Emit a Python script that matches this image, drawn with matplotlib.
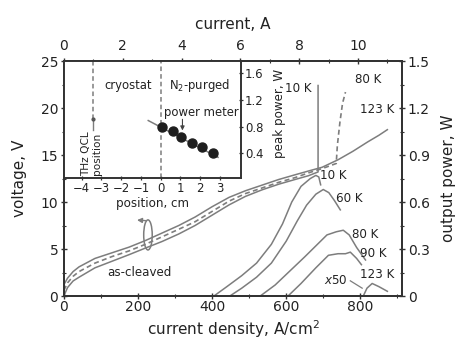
import matplotlib
matplotlib.use("Agg")
import matplotlib.pyplot as plt
from matplotlib.patches import Ellipse
from matplotlib.ticker import MultipleLocator
import numpy as np

# ---------------- data ----------------
# voltage curves (left axis)
vJ_123 = [0, 10, 25, 41, 84, 130, 176, 220, 265, 310, 354, 400, 446, 490, 535, 580, 624, 660, 697, 740, 780, 820, 850, 873]
vV_123 = [1.2, 1.9, 2.6, 3.1, 4.0, 4.6, 5.2, 5.9, 6.7, 7.5, 8.4, 9.5, 10.5, 11.2, 11.8, 12.4, 12.9, 13.3, 13.7, 14.5, 15.4, 16.4, 17.1, 17.7]

vJ_80 = [0, 10, 25, 41, 84, 130, 176, 220, 265, 310, 354, 400, 446, 490, 535, 580, 624, 660, 700, 735, 738, 745, 752, 760]
vV_80 = [0.6, 1.4, 2.1, 2.6, 3.5, 4.2, 4.8, 5.5, 6.3, 7.1, 7.9, 9.0, 10.1, 10.9, 11.5, 12.1, 12.6, 13.1, 13.6, 14.1, 16.0, 18.5, 20.5, 21.7]

vJ_10 = [0, 10, 25, 41, 84, 130, 176, 220, 265, 310, 354, 400, 446, 490, 535, 580, 624, 660, 686, 686]
vV_10 = [0.0, 0.9, 1.6, 2.0, 3.0, 3.7, 4.4, 5.1, 5.8, 6.6, 7.5, 8.6, 9.7, 10.6, 11.3, 11.9, 12.4, 12.8, 13.2, 22.4]

# output power curves (right axis)
pJ_10 = [405, 440, 480, 520, 560, 590, 615, 640, 665, 680, 688, 693]
pP_10 = [0.0, 0.06, 0.13, 0.21, 0.33, 0.46, 0.60, 0.70, 0.75, 0.77, 0.76, 0.71]
pJ_60 = [448, 480, 520, 560, 600, 630, 655, 680, 700, 715, 730, 746]
pP_60 = [0.0, 0.05, 0.12, 0.21, 0.35, 0.48, 0.58, 0.65, 0.68, 0.66, 0.61, 0.55]
pJ_80 = [530, 570, 610, 650, 680, 710, 735, 754, 770, 790, 814]
pP_80 = [0.0, 0.07, 0.16, 0.25, 0.32, 0.39, 0.41, 0.42, 0.39, 0.31, 0.23]
pJ_90 = [605, 640, 680, 714, 740, 760, 773, 790, 803]
pP_90 = [0.0, 0.08, 0.18, 0.26, 0.27, 0.27, 0.28, 0.24, 0.20]
pJ_123 = [808, 818, 832, 850, 873]
pP_123 = [0.0, 0.05, 0.08, 0.06, 0.03]

# inset: peak power vs position
ins_pos = [0.05, 0.6, 1.05, 1.6, 2.1, 2.65]
ins_pow = [0.80, 0.73, 0.64, 0.56, 0.49, 0.41]
ins_fit_pos = [-0.63, 2.9]
ins_fit_pow = [0.89, 0.34]

pos_ticks = [-4, -3, -2, -1, 0, 1, 2, 3]
ins_yticks = [0.4, 0.8, 1.2, 1.6]

# ---------------- style ----------------
LINE = "#7d7d7d"
AX = "#333333"
TXT = "#222222"
plt.rcParams['font.family'] = ['DejaVu Sans']

fig = plt.figure(figsize=(4.56, 3.45), dpi=100)
ax = fig.add_axes([0.140, 0.142, 0.742, 0.681])
ax2 = ax.twinx()
ax3 = ax.twiny()

ax.set_xlim(0, 913)
ax.set_ylim(0, 25)
ax2.set_ylim(0, 1.5)
ax3.set_xlim(0, 11.5)

# voltage curves
ax.plot(vJ_123, vV_123, color=LINE, lw=1.1)
ax.plot(vJ_10, vV_10, color=LINE, lw=1.1)
ax.plot(vJ_80, vV_80, color=LINE, lw=1.2, ls=(0, (3, 2)))

# power curves
for J, P in [(pJ_10, pP_10), (pJ_60, pP_60), (pJ_80, pP_80), (pJ_90, pP_90), (pJ_123, pP_123)]:
    ax2.plot(J, P, color=LINE, lw=1.1)
ax2.plot([773, 805], [0.097, 0.05], color=LINE, lw=0.9)

# oval + arrow
ax.add_patch(Ellipse((227, 6.5), 23, 3.2, fill=False, ec=LINE, lw=1.1))
ax.annotate("", xy=(190, 8.1), xytext=(228, 8.0),
            arrowprops=dict(arrowstyle="-|>", color=LINE, lw=1.0, mutation_scale=7))

fs_lab = 8.6
ax.text(204, 2.55, "as-cleaved", fontsize=fs_lab, color=TXT, ha="center", va="center")
ax.text(596, 22.1, "10 K", fontsize=fs_lab, color=TXT, ha="left", va="center")
ax.text(786, 23.0, "80 K", fontsize=fs_lab, color=TXT, ha="left", va="center")
ax.text(800, 19.8, "123 K", fontsize=fs_lab, color=TXT, ha="left", va="center")
ax2.text(692, 0.77, "10 K", fontsize=fs_lab, color=TXT, ha="left", va="center")
ax2.text(735, 0.62, "60 K", fontsize=fs_lab, color=TXT, ha="left", va="center")
ax2.text(778, 0.39, "80 K", fontsize=fs_lab, color=TXT, ha="left", va="center")
ax2.text(800, 0.27, "90 K", fontsize=fs_lab, color=TXT, ha="left", va="center")
ax2.text(800, 0.14, "123 K", fontsize=fs_lab, color=TXT, ha="left", va="center")
ax2.text(766, 0.10, r"$x$50", fontsize=fs_lab, color=TXT, ha="right", va="center")

# ticks
ax.xaxis.set_major_locator(MultipleLocator(200))
ax.xaxis.set_minor_locator(MultipleLocator(100))
ax.yaxis.set_major_locator(MultipleLocator(5))
ax.yaxis.set_minor_locator(MultipleLocator(2.5))
ax2.yaxis.set_major_locator(MultipleLocator(0.3))
ax2.yaxis.set_minor_locator(MultipleLocator(0.15))
ax3.xaxis.set_major_locator(MultipleLocator(2))
ax3.xaxis.set_minor_locator(MultipleLocator(1))
ax2.set_yticks([0, 0.3, 0.6, 0.9, 1.2, 1.5])
ax2.set_yticklabels(["0", "0.3", "0.6", "0.9", "1.2", "1.5"])

for a in (ax, ax2, ax3):
    a.tick_params(which="major", direction="inout", length=5, width=1.0, color=AX,
                  labelsize=10, labelcolor=TXT, pad=1.5)
    a.tick_params(which="minor", direction="inout", length=3, width=0.8, color=AX)
    for s in a.spines.values():
        s.set_color(AX)
        s.set_linewidth(1.4)
ax.tick_params(axis="x", which="major", pad=0.5)
ax3.tick_params(axis="x", which="major", pad=3.5)

ax.set_xlabel("current density, A/cm$^2$", fontsize=11, color=TXT, labelpad=3)
ax.set_ylabel("voltage, V", fontsize=11, color=TXT)
ax.yaxis.set_label_coords(-0.108, 0.5)
ax3.set_xlabel("current, A", fontsize=11, color=TXT, labelpad=7)
ax2.set_ylabel("output power, W", fontsize=11, color=TXT)
ax2.yaxis.set_label_coords(1.116, 0.5)

# ---------------- inset ----------------
axi = fig.add_axes([0.140, 0.484, 0.388, 0.339])
axi.set_zorder(10)
axi.set_facecolor("white")
axi.set_xlim(-4.9, 4.05)
axi.set_ylim(0.03, 1.78)

axi.axvline(0, color=LINE, lw=1.1, ls=(0, (3, 2)))
axi.plot([-3.42, -3.42], [0.92, 1.78], color=LINE, lw=1.1, ls=(0, (3, 2)))
axi.plot([-3.42, -3.42], [0.75, 0.92], color=LINE, lw=1.0)
axi.plot([-3.42], [0.92], marker="o", ms=2, color="#555555")
axi.plot(ins_fit_pos, ins_fit_pow, color=LINE, lw=1.1)
axi.plot(ins_pos, ins_pow, ls="none", marker="o", ms=6.5, mfc="#1e1e1e", mec="#1e1e1e")
axi.annotate("", xy=(1.1, 0.70), xytext=(1.1, 0.95),
             arrowprops=dict(arrowstyle="-|>", color="#444444", lw=0.8, mutation_scale=6))

fs_in = 8.4
axi.text(-1.65, 1.42, "cryostat", fontsize=fs_in, color=TXT, ha="center", va="center")
axi.text(1.95, 1.42, "N$_2$-purged", fontsize=fs_in, color=TXT, ha="center", va="center")
axi.text(2.05, 1.01, "power meter", fontsize=fs_in, color=TXT, ha="center", va="center")
axi.text(-3.5, 0.06, "THz QCL\nposition", fontsize=7.6, color=TXT, ha="center", va="bottom",
         rotation=90, linespacing=1.0)

axi.set_xticks(pos_ticks)
axi.set_xticklabels(["\u22124", "\u22123", "\u22122", "\u22121", "0", "1", "2", "3"])
axi.set_yticks(ins_yticks)
axi.set_yticklabels(["0.4", "0.8", "1.2", "1.6"])
axi.yaxis.tick_right()
axi.tick_params(axis="both", direction="inout", length=3.5, width=0.9, color=AX,
                labelsize=8.4, labelcolor=TXT, pad=1.2)
axi.tick_params(axis="x", top=False)
for s in axi.spines.values():
    s.set_color(AX)
    s.set_linewidth(1.4)
axi.set_xlabel("position, cm", fontsize=8.6, color=TXT, labelpad=1)
axi.yaxis.set_label_position("right")
axi.set_ylabel("peak power, W", fontsize=8.6, color=TXT)
axi.yaxis.set_label_coords(1.18, 0.55)

fig.savefig("out.png", dpi=100)
